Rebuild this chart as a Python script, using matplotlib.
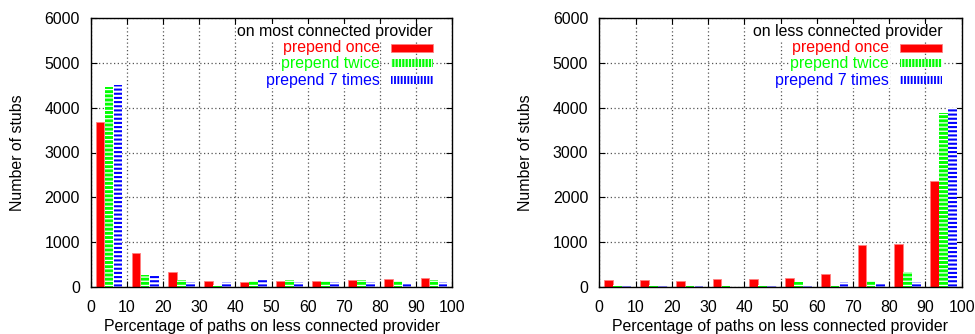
import matplotlib
matplotlib.use("Agg")
import matplotlib.pyplot as plt
from matplotlib.patches import Rectangle
import numpy as np

plt.rcParams['font.family'] = ['Liberation Sans', 'DejaVu Sans']

bins = [0, 10, 20, 30, 40, 50, 60, 70, 80, 90]
series_names = ["prepend once", "prepend twice", "prepend 7 times"]

most_once = [3685, 761, 327, 125, 118, 141, 141, 163, 179, 194]
most_twice = [4460, 260, 148, 52, 125, 148, 125, 148, 125, 148]
most_seven = [4500, 250, 103, 103, 179, 103, 103, 103, 80, 103]

less_once = [164, 148, 141, 179, 179, 201, 297, 932, 962, 2365]
less_twice = [36, 52, 45, 27, 52, 103, 52, 125, 327, 3873]
less_seven = [27, 27, 18, 10, 27, 27, 103, 80, 103, 3985]

titles = ["on most connected provider", "on less connected provider"]
xlabel = "Percentage of paths on less connected provider"
ylabel = "Number of stubs"

RED = "#ff0000"
GREEN = "#00ff00"
BLUE = "#0000ff"
FS = 11.4

fig = plt.figure(figsize=(9.75, 3.34), dpi=100)
W, H = 975, 334
axes_px = [(91, 18, 452, 287), (599.3, 18, 961.7, 287)]

def make_ax(box):
    x0, y0, x1, y1 = box
    return fig.add_axes([x0 / W, 1 - y1 / H, (x1 - x0) / W, (y1 - y0) / H])

def style_bar(patches, kind):
    for p in patches:
        if kind == 0:
            p.set_facecolor(RED)
            p.set_edgecolor("#ff8080")
            p.set_linewidth(0.6)
        elif kind == 1:
            p.set_facecolor(GREEN)
            p.set_edgecolor("white")
            p.set_linewidth(0)
            p.set_hatch("----")
            if hasattr(p, "set_hatch_linewidth"):
                p.set_hatch_linewidth(0.9)
        else:
            p.set_facecolor("white")
            p.set_edgecolor(BLUE)
            p.set_linewidth(0)
            p.set_hatch("----")
            if hasattr(p, "set_hatch_linewidth"):
                p.set_hatch_linewidth(1.5)

datasets = [(most_once, most_twice, most_seven), (less_once, less_twice, less_seven)]
x = np.array(bins, dtype=float)
offsets = [2.5, 5.0, 7.5]
bw = 2.4

for i, (box, data) in enumerate(zip(axes_px, datasets)):
    ax = make_ax(box)
    ax.set_axisbelow(True)
    for k, vals in enumerate(data):
        bars = ax.bar(x + offsets[k], vals, width=bw, zorder=2)
        style_bar(bars.patches, k)
    ax.set_xlim(0, 100)
    ax.set_ylim(0, 6000)
    ax.set_xticks(range(0, 101, 10))
    ax.set_yticks(range(0, 6001, 1000))
    ax.tick_params(direction='in', top=True, right=True, labelsize=FS,
                   length=4, width=0.8)
    ax.tick_params(axis='y', pad=8)
    ax.tick_params(axis='x', pad=9)
    ax.grid(True, linestyle=(0, (1, 2)), color="#555555", linewidth=0.9)
    for s in ax.spines.values():
        s.set_linewidth(1.0)
        s.set_color("black")
    ax.set_xlabel(xlabel, fontsize=FS, labelpad=3)
    ax.set_ylabel(ylabel, fontsize=FS, labelpad=14)

    # gnuplot-style key
    tr = ax.transAxes
    ax.text(0.9465, 0.949, titles[i], transform=tr, ha='right', va='center',
            fontsize=FS, color='black', zorder=5,
            bbox=dict(facecolor='white', edgecolor='none', pad=0.5))
    rows = [0.8896, 0.832, 0.7695]
    cols = [RED, GREEN, BLUE]
    for k, (yy, c, name) in enumerate(zip(rows, cols, series_names)):
        ax.text(0.80, yy, name, transform=tr, ha='right', va='center',
                fontsize=FS, color=c, zorder=5,
                bbox=dict(facecolor='white', edgecolor='none', pad=0.5))
        h = 0.031
        if k == 0:
            r = Rectangle((0.83, yy - h / 2), 0.1165, h, transform=tr,
                          facecolor=RED, edgecolor="#ff8080", linewidth=0.6, zorder=5)
        elif k == 1:
            r = Rectangle((0.83, yy - h / 2), 0.1165, h, transform=tr,
                          facecolor=GREEN, edgecolor="white", linewidth=0,
                          hatch="|||||", zorder=5)
            if hasattr(r, "set_hatch_linewidth"):
                r.set_hatch_linewidth(0.8)
        else:
            r = Rectangle((0.83, yy - h / 2), 0.1165, h, transform=tr,
                          facecolor="white", edgecolor=BLUE, linewidth=0,
                          hatch="|||||", zorder=5)
            if hasattr(r, "set_hatch_linewidth"):
                r.set_hatch_linewidth(1.3)
        ax.add_patch(r)

fig.savefig("out.png", dpi=100)
